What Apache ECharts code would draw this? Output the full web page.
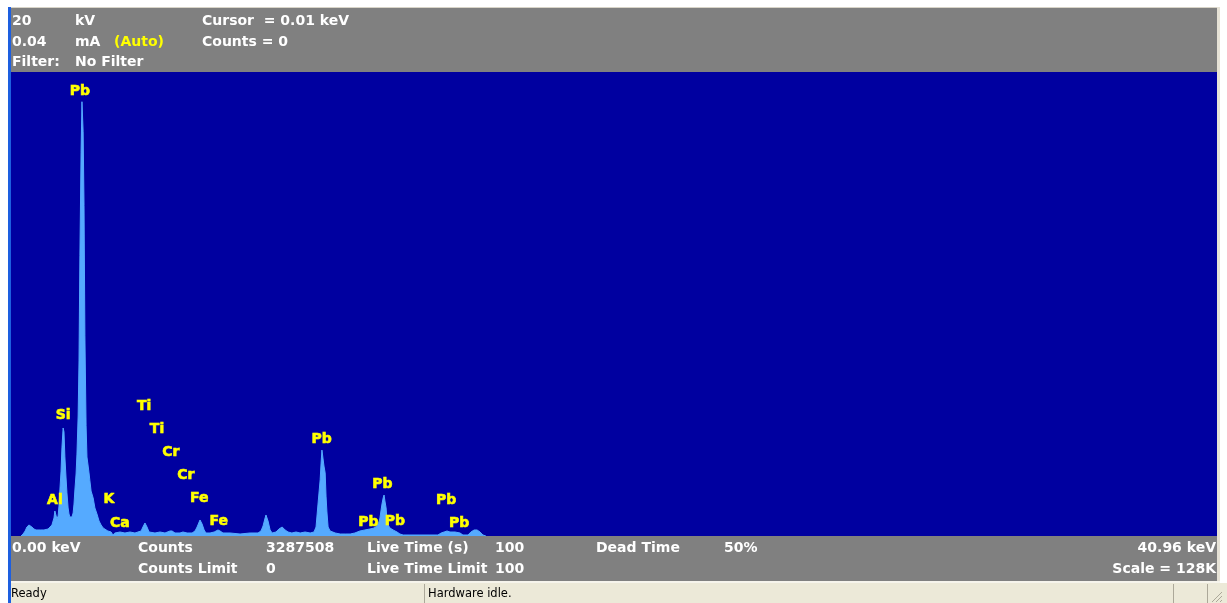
<!DOCTYPE html>
<html>
<head>
<meta charset="utf-8">
<title>XRF Spectrum</title>
<script src="https://cdn.jsdelivr.net/npm/echarts@6/dist/echarts.min.js"></script>
<style>
  html, body { margin: 0; padding: 0; background: #ffffff; }
  #chart { width: 1227px; height: 603px; }
</style>
</head>
<body>
<div id="chart"></div>
<script>
// Energy axis (keV) and full-scale counts
const energyRange = [0, 40.96];
const countScale = 128000;

// Spectrum: [energy keV, counts]
const spectrum = [
  [0.34,0],[0.41,550],[0.48,1380],[0.54,2480],[0.61,3040],[0.65,3040],[0.71,2480],[0.78,1930],
  [0.85,1660],[0.99,1660],[1.12,1660],[1.26,1930],[1.32,2210],[1.39,3040],[1.43,3590],[1.46,4970],
  [1.49,6900],[1.53,6620],[1.56,4690],[1.60,5520],[1.63,8280],[1.66,12700],[1.70,17900],[1.73,24300],
  [1.77,29800],[1.80,28700],[1.83,21800],[1.87,16000],[1.90,11900],[1.94,7730],[1.97,6070],[2.00,5240],
  [2.04,4970],[2.07,5240],[2.11,6350],[2.14,8830],[2.17,12700],[2.21,17100],[2.24,22600],[2.28,33100],
  [2.31,48300],[2.34,77300],[2.38,105700],[2.41,119800],[2.45,111500],[2.48,91100],[2.51,55200],[2.55,30400],
  [2.58,21800],[2.62,19300],[2.65,17400],[2.68,15200],[2.72,12400],[2.75,12100],[2.79,10500],[2.82,9110],
  [2.85,7730],[2.92,6070],[2.99,4140],[3.06,3040],[3.13,2210],[3.19,1660],[3.29,1380],[3.40,1100],
  [3.46,280],[3.53,830],[3.70,1100],[3.87,830],[4.04,1100],[4.21,830],[4.31,1100],[4.42,1380],
  [4.48,2480],[4.55,3590],[4.62,2480],[4.69,1100],[4.89,830],[5.06,1100],[5.23,830],[5.40,1380],
  [5.47,1380],[5.57,830],[5.74,830],[5.84,1100],[5.98,830],[6.15,830],[6.25,1380],[6.32,2480],
  [6.39,3860],[6.42,4420],[6.49,3310],[6.56,1660],[6.62,830],[6.76,830],[6.90,1100],[7.03,1660],
  [7.10,1380],[7.20,830],[7.44,830],[7.78,550],[8.12,830],[8.39,830],[8.49,1380],[8.56,2760],
  [8.63,4970],[8.66,5800],[8.73,4140],[8.80,1660],[8.87,830],[9.00,1100],[9.10,1930],[9.21,2480],
  [9.31,1660],[9.41,1100],[9.54,830],[9.68,1100],[9.82,830],[9.99,1100],[10.16,830],[10.29,1100],
  [10.36,2480],[10.43,9110],[10.50,15500],[10.53,19900],[10.56,23700],[10.60,23200],[10.63,19300],[10.67,17400],
  [10.70,11000],[10.73,6620],[10.77,2480],[10.84,1380],[11.01,830],[11.18,550],[11.35,550],[11.52,550],
  [11.68,830],[11.85,1380],[12.02,1660],[12.19,1930],[12.33,2210],[12.43,2760],[12.50,3860],[12.53,4970],
  [12.57,7180],[12.60,8830],[12.64,10500],[12.67,11300],[12.70,9660],[12.74,7730],[12.77,4420],[12.81,3040],
  [12.87,2210],[12.98,1660],[13.11,1100],[13.21,550],[13.32,280],[13.55,280],[13.89,280],[14.23,280],
  [14.50,280],[14.61,830],[14.71,1100],[14.81,1380],[14.91,1100],[15.08,1100],[15.25,830],[15.35,280],
  [15.52,280],[15.62,1100],[15.73,1660],[15.83,1660],[15.93,1100],[16.03,280],[16.13,0]
];

// Element line markers: [symbol, energy keV, label height in counts]
const elementLines = [
  ['Pb', 2.34, 123100], ['Si', 1.77, 33950], ['Al', 1.49, 10490], ['K', 3.33, 10760],
  ['Ca', 3.70, 4140], ['Ti', 4.52, 36430], ['Ti', 4.96, 30080], ['Cr', 5.43, 23740],
  ['Cr', 5.94, 17390], ['Fe', 6.39, 11040], ['Fe', 7.06, 4690], ['Pb', 10.55, 27320],
  ['Pb', 12.61, 14900], ['Pb', 12.14, 4420], ['Pb', 13.04, 4690], ['Pb', 14.78, 10490],
  ['Pb', 15.22, 4140]
];

// Instrument readouts
const headerCol1 = ['20', '0.04', 'Filter:'];
const headerCol2 = ['kV', 'mA', 'No Filter'];
const headerCol3 = ['Cursor  = 0.01 keV', 'Counts = 0', ''];
const currentMode = '(Auto)';
const footerRow1 = ['Counts', '3287508', 'Live Time (s)', '100', 'Dead Time', '50%'];
const footerRow2 = ['Counts Limit', '0', 'Live Time Limit', '100', '', ''];
const statusTexts = ['Ready', 'Hardware idle.'];

const chart = echarts.init(document.getElementById('chart'), null, { renderer: 'canvas' });

const BOLD = 'bold 14px "DejaVu Sans"';
const WHITE = '#ffffff';
const YELLOW = '#ffff00';

function txt(text, x, y, opts) {
  opts = opts || {};
  return {
    type: 'text', silent: true, z: 10,
    style: {
      text: text, x: x, y: y,
      fill: opts.fill || WHITE,
      font: opts.font || BOLD,
      align: opts.align || 'left',
      verticalAlign: 'middle'
    }
  };
}
function box(x, y, w, h, fill, z) {
  return { type: 'rect', silent: true, z: z || 1, shape: { x: x, y: y, width: w, height: h }, style: { fill: fill } };
}
function seg(x1, y1, x2, y2, stroke) {
  return { type: 'line', silent: true, z: 5, shape: { x1: x1, y1: y1, x2: x2, y2: y2 }, style: { stroke: stroke, lineWidth: 1 } };
}

const graphics = [
  // window frame
  box(8, 7, 1212, 1, '#d8d4c8'),
  box(8, 7, 3, 596, '#1d5fe0'),
  box(1217, 7, 3, 576, '#e6e2d6'),
  // header panel
  box(11, 8, 1206, 64, '#808080'),
  // footer panel
  box(11, 536, 1206, 45, '#808080'),
  // status bar
  box(11, 581, 1209, 2, '#f6f4ec'),
  box(11, 583, 1216, 20, '#ece9d8'),
  seg(424.5, 584, 424.5, 603, '#aca899'),
  seg(1173.5, 584, 1173.5, 603, '#aca899'),
  seg(1207.5, 584, 1207.5, 603, '#aca899'),
  seg(1212, 602, 1222, 592, '#aca899'),
  seg(1216, 602, 1222, 596, '#aca899'),
  seg(1220, 602, 1222, 600, '#aca899')
];

// header readouts
const headerRowsY = [21, 42, 62];
headerRowsY.forEach(function (y, i) {
  graphics.push(txt(headerCol1[i], 12, y));
  graphics.push(txt(headerCol2[i], 75, y));
  if (headerCol3[i]) graphics.push(txt(headerCol3[i], 202, y));
});
graphics.push(txt(currentMode, 114, 42, { fill: YELLOW }));

// footer readouts
const footerCols = [138, 266, 367, 495, 596, 724];
footerCols.forEach(function (x, i) {
  if (footerRow1[i]) graphics.push(txt(footerRow1[i], x, 548));
  if (footerRow2[i]) graphics.push(txt(footerRow2[i], x, 569));
});
graphics.push(txt(energyRange[0].toFixed(2) + ' keV', 12, 548));
graphics.push(txt(energyRange[1].toFixed(2) + ' keV', 1216, 548, { align: 'right' }));
graphics.push(txt('Scale = ' + Math.round(countScale / 1000) + 'K', 1216, 569, { align: 'right' }));

// status bar
graphics.push(txt(statusTexts[0], 11, 594, { fill: '#000000', font: '11.5px "DejaVu Sans"' }));
graphics.push(txt(statusTexts[1], 428, 594, { fill: '#000000', font: '11.5px "DejaVu Sans"' }));

chart.setOption({
  animation: false,
  backgroundColor: '#ffffff',
  grid: {
    left: 11, right: 10, top: 72, bottom: 67,
    show: true, backgroundColor: '#0000a0', borderWidth: 0
  },
  xAxis: {
    type: 'value', min: energyRange[0], max: energyRange[1], show: false
  },
  yAxis: {
    type: 'value', min: 0, max: countScale, show: false
  },
  series: [
    {
      type: 'line',
      data: spectrum,
      showSymbol: false,
      symbol: 'none',
      silent: true,
      lineStyle: { color: '#55aaff', width: 1 },
      areaStyle: { color: '#55aaff', opacity: 1 },
      z: 2
    },
    {
      type: 'scatter',
      data: elementLines.map(function (d) { return { name: d[0], value: [d[1], d[2]] }; }),
      symbolSize: 1,
      itemStyle: { color: 'rgba(0,0,0,0)' },
      silent: true,
      z: 3,
      label: {
        show: true,
        position: 'inside',
        offset: [0, 2],
        formatter: function (p) { return p.name; },
        color: YELLOW,
        opacity: 1,
        textBorderColor: YELLOW,
        textBorderWidth: 0.6,
        textShadowBlur: 0,
        fontFamily: 'DejaVu Sans',
        fontWeight: 'bold',
        fontSize: 14
      }
    }
  ],
  graphic: graphics
});
</script>
</body>
</html>
